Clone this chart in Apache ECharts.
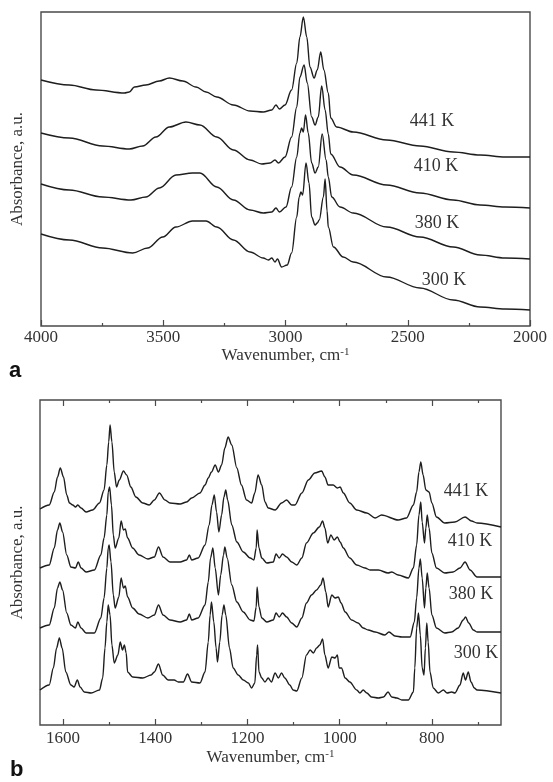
<!DOCTYPE html>
<html>
<head>
<meta charset="utf-8">
<script src="https://cdn.jsdelivr.net/npm/echarts@6/dist/echarts.min.js"></script>
<style>
html,body{margin:0;padding:0;background:#fff;}
#chart{width:553px;height:782px;}
</style>
</head>
<body>
<div id="chart"></div>
<script>
// ---------- Data (wavenumber cm-1, absorbance a.u.) ----------
const TEMPS = ['441 K', '410 K', '380 K', '300 K'];

// Panel a: 4000-2000 cm-1
const A_441 = [[4000,2.46],[3884,2.41],[3775,2.36],[3659,2.33],[3639,2.34],[3618,2.39],[3571,2.41],[3516,2.45],[3475,2.48],[3420,2.45],[3366,2.39],[3325,2.34],[3281,2.29],[3213,2.21],[3145,2.15],[3091,2.14],[3056,2.16],[3039,2.21],[3025,2.17],[3002,2.21],[2975,2.36],[2954,2.63],[2941,2.89],[2927,3.09],[2913,2.89],[2900,2.59],[2883,2.48],[2870,2.56],[2856,2.74],[2843,2.56],[2825,2.33],[2815,2.08],[2791,1.99],[2723,1.94],[2586,1.86],[2450,1.80],[2314,1.74],[2204,1.71],[2102,1.69],[2000,1.69]];
const A_410 = [[4000,1.93],[3884,1.88],[3748,1.80],[3639,1.77],[3584,1.80],[3530,1.89],[3475,1.99],[3407,2.04],[3350,2.01],[3281,1.89],[3213,1.76],[3145,1.66],[3097,1.62],[3063,1.63],[3043,1.66],[3029,1.63],[3002,1.69],[2975,1.89],[2954,2.19],[2941,2.49],[2924,2.61],[2911,2.43],[2893,2.09],[2879,2.01],[2866,2.09],[2852,2.40],[2838,2.16],[2825,1.92],[2815,1.72],[2777,1.59],[2723,1.51],[2586,1.41],[2450,1.33],[2314,1.26],[2204,1.21],[2102,1.19],[2000,1.18]];
const A_380 = [[4000,1.42],[3884,1.36],[3748,1.29],[3632,1.26],[3571,1.29],[3516,1.38],[3448,1.51],[3380,1.53],[3350,1.53],[3281,1.39],[3213,1.26],[3145,1.16],[3091,1.13],[3056,1.14],[3039,1.18],[3025,1.14],[2998,1.19],[2975,1.39],[2954,1.69],[2941,1.93],[2934,1.98],[2927,1.94],[2918,2.11],[2907,1.93],[2893,1.63],[2879,1.53],[2866,1.59],[2850,1.92],[2834,1.66],[2825,1.49],[2811,1.29],[2777,1.19],[2723,1.13],[2586,0.99],[2450,0.89],[2314,0.79],[2204,0.71],[2102,0.68],[2000,0.67]];
const A_300 = [[4000,0.92],[3884,0.86],[3748,0.78],[3625,0.73],[3564,0.78],[3502,0.89],[3448,0.99],[3380,1.05],[3325,1.05],[3281,0.99],[3213,0.86],[3145,0.74],[3091,0.68],[3070,0.66],[3056,0.68],[3043,0.64],[3033,0.67],[3016,0.59],[2993,0.61],[2975,0.73],[2954,1.09],[2944,1.29],[2937,1.34],[2930,1.31],[2916,1.63],[2904,1.43],[2893,1.09],[2879,1.01],[2870,1.03],[2862,1.06],[2845,1.29],[2838,1.47],[2830,1.15],[2825,0.99],[2804,0.79],[2764,0.69],[2723,0.64],[2586,0.49],[2450,0.38],[2314,0.26],[2204,0.19],[2102,0.17],[2000,0.16]];

// Panel b: 1650-650 cm-1
const B_441 = [[1650,2.16],[1630,2.20],[1619,2.33],[1612,2.48],[1606,2.57],[1599,2.48],[1592,2.30],[1586,2.22],[1579,2.20],[1573,2.18],[1568,2.20],[1561,2.17],[1550,2.13],[1536,2.15],[1521,2.22],[1511,2.35],[1505,2.60],[1501,2.83],[1498,3.00],[1494,2.83],[1489,2.53],[1484,2.38],[1478,2.45],[1469,2.54],[1462,2.50],[1453,2.38],[1442,2.28],[1427,2.22],[1413,2.20],[1402,2.25],[1391,2.32],[1379,2.25],[1368,2.22],[1346,2.21],[1332,2.23],[1321,2.27],[1303,2.32],[1292,2.40],[1285,2.47],[1278,2.53],[1270,2.60],[1263,2.53],[1256,2.60],[1249,2.77],[1242,2.88],[1234,2.80],[1223,2.57],[1213,2.40],[1202,2.25],[1191,2.22],[1184,2.32],[1177,2.50],[1169,2.40],[1162,2.23],[1155,2.17],[1140,2.15],[1126,2.22],[1115,2.25],[1104,2.20],[1097,2.20],[1082,2.32],[1068,2.45],[1054,2.52],[1039,2.54],[1032,2.48],[1025,2.40],[1014,2.40],[1005,2.37],[999,2.38],[992,2.32],[978,2.22],[963,2.15],[941,2.12],[923,2.07],[909,2.10],[873,2.05],[855,2.07],[840,2.20],[833,2.33],[828,2.53],[824,2.63],[819,2.50],[813,2.35],[806,2.33],[800,2.22],[790,2.08],[772,2.02],[750,2.03],[728,2.08],[714,2.04],[702,2.02],[650,1.98]];
const B_410 = [[1650,1.57],[1630,1.60],[1619,1.77],[1612,1.95],[1607,2.02],[1601,1.93],[1592,1.70],[1583,1.58],[1573,1.57],[1567,1.63],[1561,1.57],[1550,1.53],[1532,1.55],[1518,1.70],[1511,1.87],[1505,2.10],[1502,2.33],[1499,2.38],[1495,2.20],[1491,1.90],[1487,1.77],[1479,1.87],[1474,2.04],[1469,1.95],[1465,1.96],[1460,1.87],[1449,1.77],[1435,1.70],[1416,1.66],[1402,1.68],[1393,1.78],[1383,1.68],[1368,1.63],[1346,1.63],[1332,1.65],[1326,1.70],[1321,1.65],[1307,1.67],[1292,1.80],[1283,2.00],[1277,2.20],[1272,2.30],[1267,2.13],[1262,1.93],[1256,2.10],[1251,2.28],[1247,2.35],[1243,2.25],[1234,2.00],[1223,1.83],[1209,1.73],[1194,1.67],[1186,1.65],[1181,1.77],[1179,1.95],[1175,1.77],[1169,1.67],[1158,1.62],[1144,1.63],[1138,1.71],[1131,1.67],[1124,1.71],[1115,1.68],[1104,1.63],[1093,1.60],[1082,1.67],[1072,1.82],[1057,1.92],[1044,1.98],[1037,2.04],[1032,1.97],[1026,1.82],[1019,1.90],[1012,1.85],[1005,1.88],[999,1.83],[992,1.77],[978,1.67],[963,1.60],[945,1.57],[934,1.55],[916,1.55],[895,1.52],[887,1.53],[873,1.50],[851,1.47],[840,1.57],[833,1.80],[828,2.10],[824,2.23],[821,2.03],[816,1.82],[813,1.97],[810,2.10],[806,1.97],[800,1.72],[790,1.57],[772,1.52],[754,1.53],[739,1.57],[728,1.63],[717,1.55],[702,1.48],[650,1.48]];
const B_380 = [[1650,0.97],[1630,1.00],[1619,1.17],[1612,1.37],[1607,1.43],[1601,1.35],[1592,1.12],[1583,1.00],[1573,0.97],[1568,1.03],[1561,0.97],[1550,0.92],[1532,0.92],[1518,1.07],[1511,1.27],[1505,1.57],[1502,1.77],[1500,1.80],[1496,1.63],[1491,1.30],[1487,1.17],[1479,1.28],[1474,1.47],[1469,1.37],[1465,1.39],[1460,1.28],[1449,1.17],[1435,1.11],[1416,1.07],[1402,1.10],[1393,1.20],[1383,1.10],[1368,1.05],[1346,1.03],[1332,1.05],[1326,1.11],[1321,1.05],[1307,1.07],[1292,1.20],[1285,1.43],[1280,1.67],[1275,1.77],[1270,1.57],[1263,1.30],[1258,1.50],[1252,1.70],[1249,1.78],[1244,1.67],[1234,1.40],[1223,1.23],[1209,1.13],[1194,1.05],[1186,1.04],[1181,1.18],[1179,1.38],[1175,1.18],[1169,1.07],[1158,1.03],[1144,1.05],[1138,1.12],[1131,1.08],[1124,1.12],[1115,1.08],[1104,1.02],[1093,0.98],[1082,1.07],[1072,1.22],[1061,1.30],[1050,1.35],[1041,1.40],[1036,1.47],[1030,1.33],[1025,1.18],[1017,1.30],[1010,1.27],[1003,1.28],[997,1.22],[988,1.13],[974,1.05],[960,1.02],[949,0.97],[938,0.95],[923,0.93],[902,0.90],[893,0.93],[880,0.89],[865,0.88],[847,0.88],[838,1.03],[833,1.27],[828,1.57],[825,1.66],[821,1.47],[816,1.17],[813,1.37],[810,1.52],[806,1.37],[800,1.10],[790,0.97],[772,0.92],[757,0.93],[743,0.97],[732,1.05],[727,1.08],[720,1.02],[710,0.95],[702,0.93],[650,0.93]];
const B_300 = [[1650,0.35],[1630,0.40],[1621,0.57],[1614,0.77],[1608,0.87],[1602,0.77],[1594,0.53],[1583,0.40],[1576,0.38],[1569,0.45],[1563,0.38],[1554,0.33],[1539,0.32],[1521,0.35],[1514,0.47],[1509,0.77],[1505,1.03],[1502,1.20],[1498,1.10],[1494,0.80],[1489,0.62],[1481,0.70],[1476,0.83],[1471,0.75],[1467,0.80],[1463,0.72],[1460,0.53],[1449,0.48],[1427,0.47],[1409,0.50],[1402,0.53],[1393,0.61],[1384,0.50],[1372,0.45],[1359,0.45],[1350,0.43],[1339,0.43],[1330,0.51],[1321,0.43],[1303,0.42],[1292,0.53],[1285,0.83],[1281,1.10],[1278,1.23],[1273,1.03],[1268,0.77],[1265,0.63],[1260,0.83],[1255,1.10],[1251,1.20],[1247,1.10],[1239,0.77],[1231,0.57],[1220,0.50],[1209,0.45],[1198,0.42],[1191,0.37],[1184,0.42],[1180,0.70],[1178,0.80],[1175,0.53],[1169,0.47],[1162,0.43],[1155,0.47],[1148,0.43],[1140,0.52],[1133,0.47],[1126,0.52],[1119,0.47],[1108,0.40],[1101,0.35],[1093,0.34],[1082,0.47],[1072,0.70],[1064,0.75],[1057,0.72],[1050,0.77],[1043,0.80],[1037,0.86],[1032,0.70],[1025,0.57],[1017,0.68],[1010,0.67],[1005,0.70],[1001,0.57],[996,0.57],[988,0.47],[978,0.43],[963,0.35],[956,0.32],[949,0.35],[941,0.32],[931,0.28],[916,0.27],[905,0.28],[895,0.33],[887,0.28],[876,0.27],[865,0.25],[851,0.25],[840,0.33],[837,0.57],[833,0.97],[829,1.12],[825,0.90],[821,0.57],[817,0.50],[814,0.77],[811,1.02],[808,0.83],[804,0.53],[797,0.37],[786,0.32],[775,0.35],[767,0.32],[757,0.33],[750,0.32],[739,0.40],[732,0.52],[727,0.45],[721,0.53],[715,0.43],[708,0.37],[702,0.35],[650,0.32]];

// Tick values
const A_TICKS = [4000, 3500, 3000, 2500, 2000];
const B_TICKS = [1600, 1400, 1200, 1000, 800];
const B_MINOR = [1500, 1300, 1100, 900, 700];

// Label anchors (data coordinates)
const A_LABEL_AT = [[2401, 2.05], [2384, 1.60], [2380, 1.03], [2352, 0.46]];
const B_LABEL_AT = [[726, 2.34], [717, 1.84], [715, 1.31], [704, 0.72]];

// ---------- Styling ----------
const SERIF = 'Liberation Serif, Times New Roman, serif';
const FRAME = '#4a4a4a';
const TEXT = '#333';
const LINE = '#1e1e1e';
const plain = v => String(v);

const chart = echarts.init(document.getElementById('chart'), null, {renderer: 'canvas'});

const nameRich = {
  a: {fontFamily: SERIF, fontSize: 17, color: TEXT},
  s: {fontFamily: SERIF, fontSize: 11, color: TEXT, verticalAlign: 'top', lineHeight: 12}
};

function hiddenAxisBits() {
  return {splitLine: {show: false}, minorSplitLine: {show: false}};
}

function bAxis(pos, ticks, len, label, name) {
  const ax = Object.assign({
    gridIndex: 1, type: 'value', min: 650, max: 1650, inverse: true, position: pos,
    axisLine: {show: false},
    axisTick: {show: true, inside: true, length: len, customValues: ticks, lineStyle: {color: FRAME, width: 1.2}},
    axisLabel: label ? {show: true, customValues: ticks, formatter: plain, fontFamily: SERIF, fontSize: 17, color: TEXT, margin: 5} : {show: false}
  }, hiddenAxisBits());
  if (name) {
    ax.name = '{a|Wavenumber, cm}{s|-1}';
    ax.nameLocation = 'middle';
    ax.nameGap = 24;
    ax.nameTextStyle = {rich: nameRich};
  }
  return ax;
}

const seriesList = [];
const aData = [A_441, A_410, A_380, A_300];
const bData = [B_441, B_410, B_380, B_300];
function labelMark(at, text) {
  return {
    symbol: 'rect', symbolSize: [1, 1], silent: true,
    itemStyle: {color: 'rgba(0,0,0,0)'},
    label: {show: true, position: 'inside', formatter: text, fontFamily: SERIF, fontSize: 18, color: TEXT},
    data: [{coord: at, name: text}]
  };
}
TEMPS.forEach((t, i) => {
  seriesList.push({
    name: 'a ' + t, type: 'line', xAxisIndex: 0, yAxisIndex: 0, data: aData[i],
    showSymbol: false, smooth: 0.35, smoothMonotone: 'x',
    lineStyle: {color: LINE, width: 1.4}, animation: false,
    markPoint: labelMark(A_LABEL_AT[i], t)
  });
  seriesList.push({
    name: 'b ' + t, type: 'line', xAxisIndex: 1, yAxisIndex: 1, data: bData[i],
    showSymbol: false, smooth: 0.3, smoothMonotone: 'x',
    lineStyle: {color: LINE, width: 1.4}, animation: false,
    markPoint: labelMark(B_LABEL_AT[i], t)
  });
});

const option = {
  backgroundColor: '#fff',
  animation: false,
  grid: [
    {left: 41, top: 12, width: 489, height: 314, show: true, borderColor: FRAME, borderWidth: 1.4, backgroundColor: 'transparent'},
    {left: 40, top: 400, width: 461, height: 325, show: true, borderColor: FRAME, borderWidth: 1.4, backgroundColor: 'transparent'}
  ],
  xAxis: [
    Object.assign({
      gridIndex: 0, type: 'value', min: 2000, max: 4000, interval: 500, inverse: true, position: 'bottom',
      axisLine: {show: false},
      axisTick: {show: true, inside: true, length: 6, lineStyle: {color: FRAME, width: 1.2}},
      minorTick: {show: true, splitNumber: 2, length: 3, lineStyle: {color: FRAME, width: 1.2}},
      axisLabel: {show: true, formatter: plain, fontFamily: SERIF, fontSize: 17, color: TEXT, margin: 3},
      name: '{a|Wavenumber, cm}{s|-1}', nameLocation: 'middle', nameGap: 20,
      nameTextStyle: {rich: nameRich}
    }, hiddenAxisBits()),
    bAxis('bottom', B_TICKS, 6, true, true),
    bAxis('bottom', B_MINOR, 3, false, false),
    bAxis('top', B_TICKS, 6, false, false),
    bAxis('top', B_MINOR, 3, false, false)
  ],
  yAxis: [
    Object.assign({
      gridIndex: 0, type: 'value', min: 0, max: 3.14,
      axisLine: {show: false}, axisTick: {show: false}, axisLabel: {show: false},
      name: 'Absorbance, a.u.', nameLocation: 'middle', nameGap: 15,
      nameTextStyle: {fontFamily: SERIF, fontSize: 17, color: TEXT}
    }, hiddenAxisBits()),
    Object.assign({
      gridIndex: 1, type: 'value', min: 0, max: 3.25,
      axisLine: {show: false}, axisTick: {show: false}, axisLabel: {show: false},
      name: 'Absorbance, a.u.', nameLocation: 'middle', nameGap: 14,
      nameTextStyle: {fontFamily: SERIF, fontSize: 17, color: TEXT}
    }, hiddenAxisBits())
  ],
  graphic: [
    {type: 'text', left: 9, top: 360, style: {text: 'a', font: 'bold 22px Liberation Sans, Arial, sans-serif', fill: '#111'}},
    {type: 'text', left: 10, top: 759, style: {text: 'b', font: 'bold 22px Liberation Sans, Arial, sans-serif', fill: '#111'}}
  ],
  series: seriesList
};

chart.setOption(option);
</script>
</body>
</html>
